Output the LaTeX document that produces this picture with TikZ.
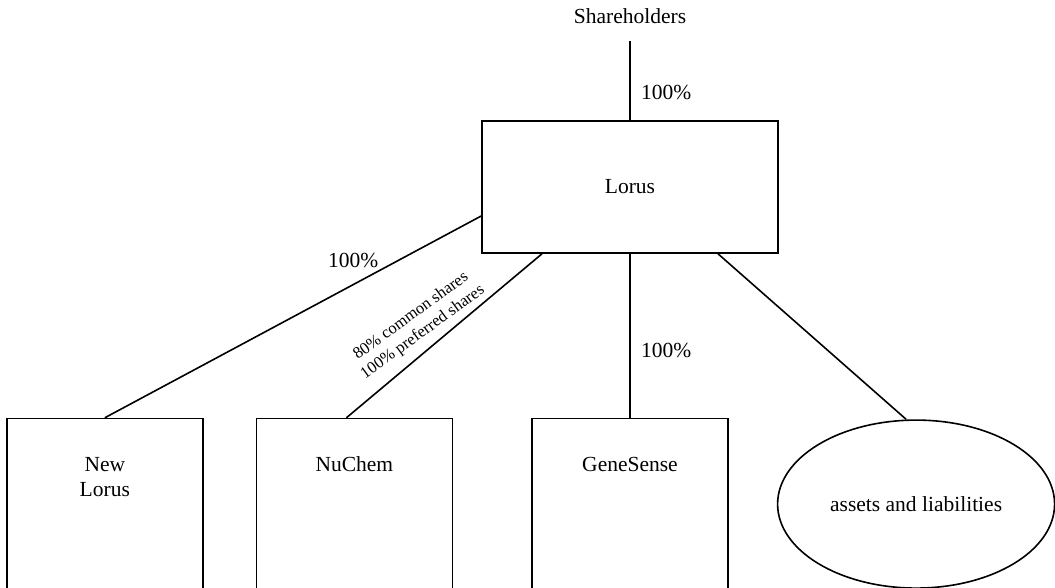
\documentclass[tikz,border=0pt]{standalone}
\usepackage{fontspec}
\setmainfont{Liberation Serif}
\usetikzlibrary{positioning,shapes.geometric}

\begin{document}
\begin{tikzpicture}[
        x=1pt, y=1pt,
        font=\fontsize{21.5}{25}\selectfont,
        line width=1.6pt,
        parent/.style={
                rectangle,
                draw=black,
                text centered,
                minimum width=296pt,
                minimum height=132pt,
            },
        company/.style={
                rectangle,
                draw=black,
                minimum width=196pt,
                minimum height=171pt,
            },
        pool/.style={
                ellipse,
                draw=black,
                text centered,
                minimum width=277pt,
                minimum height=168pt,
            },
        boxlabel/.style={
                align=center,
                yshift=-58pt,
            },
    ]
    \useasboundingbox (0,0) rectangle (1055,588);

    \node[parent] (lorus) at (630,401) {Lorus};
    \node (holders) [above=92.7pt of lorus] {Shareholders};
    \node[company, label={[boxlabel]GeneSense}] (genesense) [below=164pt of lorus] {};
    \node[company, label={[boxlabel]NuChem}] (nuchem) [left=78pt of genesense] {};
    \node[company, label={[boxlabel, yshift=-25pt]New\\Lorus}] (newlorus) [left=52pt of nuchem] {};
    \node[pool] (assets) [right=48pt of genesense] {assets and liabilities};

    \path (holders) edge[shorten <=13.7pt] node[right=7pt, pos=0.7] {100\%} (lorus);
    \path ([yshift=-29pt]lorus.west) edge node[pos=0.34, above=13pt] {100\%} (newlorus.north);
    \path ([xshift=-88pt]lorus.south) edge node[
        pos=0.56,
        rotate=36,
        anchor=south,
        inner ysep=8pt,
        align=center,
        font=\fontsize{16.5}{20}\selectfont
    ] {80\% common shares\\100\% preferred shares} ([xshift=-8pt]nuchem.north);
    \path (lorus) edge node[right=7pt, pos=0.59] {100\%} (genesense);
    \path ([xshift=88pt]lorus.south) edge ([xshift=-10pt]assets.north);
\end{tikzpicture}
\end{document}
